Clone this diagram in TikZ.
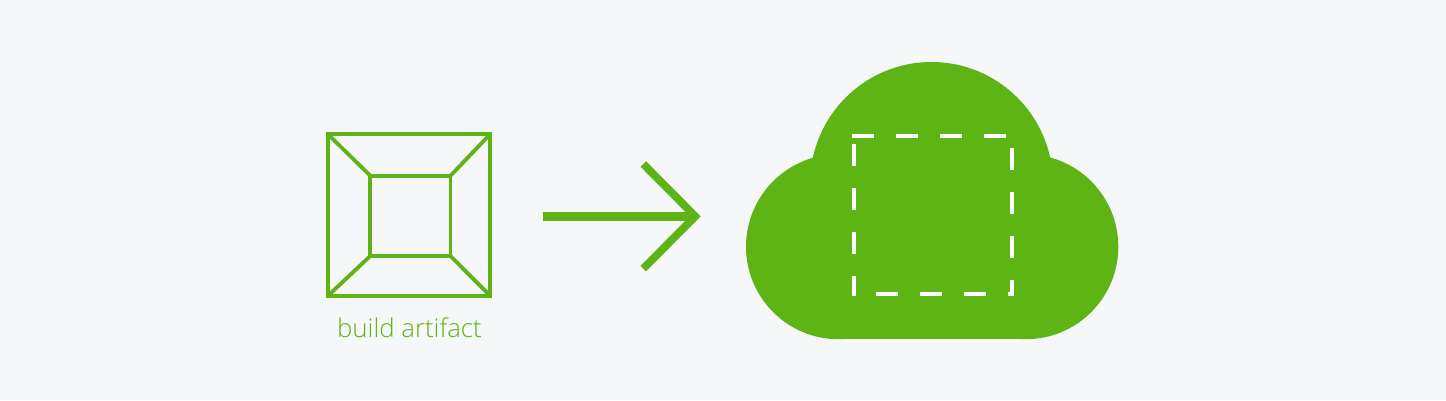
\documentclass[tikz,border=0pt]{standalone}
\usepackage{fontspec}
\setmainfont{Open Sans}[UprightFont=* Light]
\definecolor{bg}{HTML}{F6F7F9}
\definecolor{grn}{HTML}{5EB414}
\tikzset{
  frame/.style={draw=grn,line width=4.2pt,miter limit=10},
  thin frame/.style={draw=grn,line width=3.8pt},
  shaftline/.style={draw=grn,line width=9pt},
  armline/.style={draw=grn,line width=7.8pt,miter limit=10},
  whitedash/.style={draw=white,line width=4.2pt,dash pattern=on 22pt off 22pt},
  lbl/.style={text=grn,font=\fontsize{25.8}{30}\selectfont,inner sep=0pt,anchor=base}
}
\begin{document}
\begin{tikzpicture}[x=1pt,y=-1pt]
\useasboundingbox (0,0) rectangle (1446,400);
\fill[bg] (0,0) rectangle (1446,400);
% artifact box
\draw[thin frame] (328,134.3) -- (370.3,175.7);
\draw[thin frame] (490,134.3) -- (450.5,175.7);
\draw[thin frame] (328,295.7) -- (370.3,256);
\draw[thin frame] (490,295.7) -- (450.5,256);
\draw[frame] (328,134.3) rectangle (490,295.7);
\draw[thin frame] (370.3,175.7) rectangle (450.5,256);
\node[lbl] (label) at (409.5,337) {build artifact};
% arrow
\coordinate (shaftstart) at (542.7,216.3);
\coordinate (tip) at (695.2,216.3);
\coordinate (armtop) at (643.3,164);
\coordinate (armbot) at (643.3,268.6);
\draw[shaftline] (shaftstart) -- (tip);
\draw[armline] (armtop) -- (tip) -- (armbot);
% cloud
\fill[grn] (931.5,183.4) circle[radius=121.4];
\fill[grn] (838.5,246.7) circle[radius=92.5];
\fill[grn] (1025.8,246.7) circle[radius=92.5];
\fill[grn] (838.5,246.7) rectangle (1025.8,339.2);
% dashed square
\draw[whitedash] (852,136) -- (1014,136);
\draw[whitedash] (1012,148) -- (1012,296);
\draw[whitedash,dash phase=16pt] (1014,294) -- (854,294);
\draw[whitedash,dash phase=2pt] (854,296) -- (854,136);
\end{tikzpicture}
\end{document}
